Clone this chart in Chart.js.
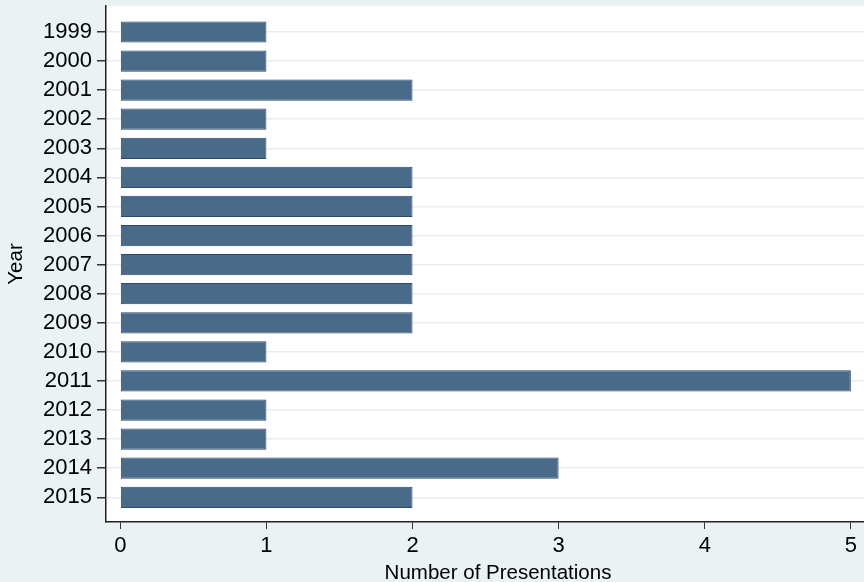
<!DOCTYPE html>
<html>
<head>
<meta charset="utf-8">
<script src="https://cdn.jsdelivr.net/npm/chart.js@4/dist/chart.umd.min.js"></script>
<style>
  body { margin: 0; background: #eaf2f3; }
  canvas { display: block; }
</style>
</head>
<body>
<canvas id="presChart" width="864" height="582"></canvas>
<script>
const years = ['1999', '2000', '2001', '2002', '2003', '2004', '2005', '2006', '2007',
  '2008', '2009', '2010', '2011', '2012', '2013', '2014', '2015'];
const presentations = [1, 1, 2, 1, 1, 2, 2, 2, 2, 2, 2, 1, 5, 1, 1, 3, 2];
const xTicks = [0, 1, 2, 3, 4, 5];
const xTitle = 'Number of Presentations';

const fontFamily = '"Liberation Sans", Arial, Helvetica, sans-serif';

// stata-like backdrop: grey-blue outside, white plot region
const backdrop = {
  id: 'backdrop',
  beforeDraw(chart) {
    const { ctx, chartArea: a } = chart;
    ctx.save();
    ctx.fillStyle = '#eaf2f3';
    ctx.fillRect(0, 0, chart.width, chart.height);
    ctx.fillStyle = '#ffffff';
    ctx.fillRect(a.left, a.top, a.right - a.left, a.bottom - a.top);
    ctx.restore();
  },
  // the plot region runs past the right edge, so the axis title sits right of centre
  afterDraw(chart) {
    const { ctx, chartArea: a } = chart;
    ctx.save();
    ctx.fillStyle = '#000';
    ctx.font = '20.5px ' + fontFamily;
    ctx.textAlign = 'center';
    ctx.textBaseline = 'alphabetic';
    ctx.fillText(xTitle, (a.left + a.right + 26) / 2, 579);
    ctx.restore();
  }
};

const noPad = s => { s.paddingTop = 0; s.paddingBottom = 0; s.paddingLeft = 0; s.paddingRight = 0; };

const ctx = document.getElementById('presChart').getContext('2d');
const presChart = new Chart(ctx, {
  type: 'bar',
  data: {
    datasets: [{
      label: xTitle,
      data: years.map((y, i) => ({ x: presentations[i], y: i })),
      backgroundColor: '#4a6a8a',
      borderColor: '#2a4a6a',
      borderWidth: 1,
      borderSkipped: false,
      categoryPercentage: 1,
      barPercentage: 0.73
    }]
  },
  plugins: [backdrop],
  options: {
    indexAxis: 'y',
    responsive: false,
    animation: false,
    layout: { padding: { top: 6, right: 0, bottom: 0, left: 0 } },
    plugins: {
      legend: { display: false },
      tooltip: { enabled: false }
    },
    scales: {
      y: {
        type: 'linear',
        reverse: true,
        offset: false,
        min: -0.894,
        max: 16.85,
        afterBuildTicks: s => { s.ticks = years.map((_, i) => ({ value: i })); },
        afterFit: s => { s.width = 106; noPad(s); },
        ticks: {
          callback: v => years[v],
          color: '#000',
          padding: 5,
          font: { family: fontFamily, size: 22 }
        },
        grid: {
          offset: false,
          color: '#e6eef0',
          lineWidth: 1.5,
          tickColor: '#333',
          tickLength: 9
        },
        border: { color: '#222', width: 1.5 },
        title: {
          display: true,
          text: 'Year',
          color: '#000',
          padding: { top: 4, bottom: 0 },
          font: { family: fontFamily, size: 20.5 }
        }
      },
      x: {
        type: 'linear',
        min: -0.098,
        max: 5.09,
        afterBuildTicks: s => { s.ticks = xTicks.map(v => ({ value: v })); },
        afterFit: s => { s.height = 60; noPad(s); },
        ticks: {
          color: '#000',
          padding: 4,
          font: { family: fontFamily, size: 22 }
        },
        grid: {
          drawOnChartArea: false,
          tickColor: '#333',
          tickLength: 7
        },
        border: { color: '#222', width: 1.5 }
      }
    }
  }
});
</script>
</body>
</html>
